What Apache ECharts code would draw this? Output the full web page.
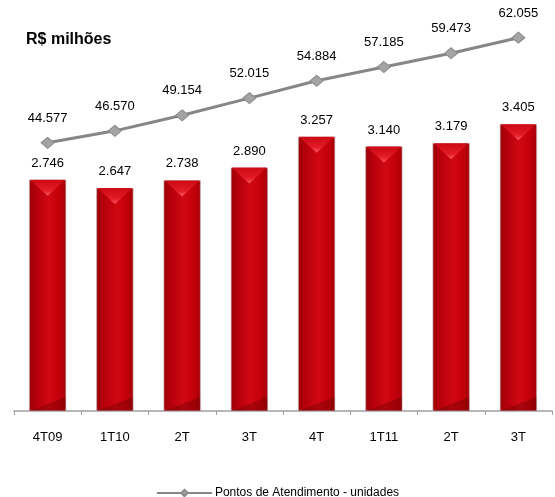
<!DOCTYPE html>
<html>
<head>
<meta charset="utf-8">
<script src="https://cdn.jsdelivr.net/npm/echarts@6/dist/echarts.min.js"></script>
<style>
  html, body { margin: 0; padding: 0; background: #fff; }
  #chart { width: 555px; height: 497px; }
</style>
</head>
<body>
<div id="chart"></div>
<script>
// Quarters on the horizontal axis
const categories = ['4T09', '1T10', '2T', '3T', '4T', '1T11', '2T', '3T'];
// Bars: R$ milhões
const barValues = [2746, 2647, 2738, 2890, 3257, 3140, 3179, 3405];
// Line: Pontos de Atendimento - unidades
const pointValues = [44577, 46570, 49154, 52015, 54884, 57185, 59473, 62055];

const fmt = v => {
  const s = String(Math.round(v));
  return s.replace(/\B(?=(\d{3})+(?!\d))/g, '.');
};

const font = 'Liberation Sans, Arial, sans-serif';

const chart = echarts.init(document.getElementById('chart'), null, { renderer: 'canvas' });

const bodyGradient = new echarts.graphic.LinearGradient(0, 0, 1, 0, [
  { offset: 0, color: '#9c0008' },
  { offset: 0.2, color: '#b6000c' },
  { offset: 0.55, color: '#d00812' },
  { offset: 0.8, color: '#c4000a' },
  { offset: 1, color: '#a60008' }
]);

const topGradient = new echarts.graphic.LinearGradient(0, 0, 0, 1, [
  { offset: 0, color: '#cc0a14' },
  { offset: 0.65, color: '#e41c28' },
  { offset: 1, color: '#ff5a68' }
]);

chart.setOption({
  animation: false,
  title: {
    text: 'R$ milhões',
    left: 26,
    top: 32,
    padding: 0,
    textStyle: { fontFamily: font, fontSize: 16, fontWeight: 'bold', color: '#000' }
  },
  legend: {
    top: 487,
    left: 'center',
    padding: 0,
    itemWidth: 55,
    itemHeight: 8,
    itemGap: 5,
    data: ['Pontos de Atendimento - unidades'],
    textStyle: { fontFamily: font, fontSize: 12, color: '#000', padding: [0, 0, 0, -2] }
  },
  grid: { left: 14, right: 3, top: 32, bottom: 86, containLabel: false },
  xAxis: {
    type: 'category',
    data: categories,
    boundaryGap: true,
    axisLine: { lineStyle: { color: '#a0a0a0', width: 1.5 } },
    axisTick: { show: true, length: 4, lineStyle: { color: '#a0a0a0', width: 1 } },
    axisLabel: { fontFamily: font, fontSize: 13, color: '#000', margin: 20 },
    splitLine: { show: false }
  },
  yAxis: [
    { type: 'value', min: 0, max: 4500, show: false, splitLine: { show: false } },
    { type: 'value', min: 0, max: 63000, show: false, splitLine: { show: false } }
  ],
  series: [
    {
      name: 'R$ milhões',
      type: 'bar',
      yAxisIndex: 0,
      data: barValues,
      barWidth: 37,
      itemStyle: { color: bodyGradient, borderColor: '#c0a8a8', borderWidth: 0.6 },
      label: {
        show: true,
        position: 'top',
        distance: 10,
        formatter: p => fmt(p.value),
        fontFamily: font,
        fontSize: 13,
        color: '#000'
      },
      z: 2
    },
    {
      // bevelled cap at the top of each bar
      name: 'cap',
      type: 'pictorialBar',
      yAxisIndex: 0,
      data: barValues,
      barGap: '-100%',
      symbol: 'path://M0,0 L36,0 L18,16 Z',
      symbolSize: [35, 16],
      symbolPosition: 'end',
      itemStyle: { color: topGradient, opacity: 0.95 },
      silent: true,
      legendHoverLink: false,
      z: 3
    },
    {
      // darker bevel at the foot of each bar
      name: 'foot',
      type: 'pictorialBar',
      yAxisIndex: 0,
      data: barValues,
      symbol: 'path://M18,14 L36,0 L36,14 Z',
      symbolSize: [36, 14],
      symbolPosition: 'start',
      itemStyle: { color: 'rgba(80,0,0,0.3)' },
      silent: true,
      legendHoverLink: false,
      z: 3
    },
    {
      name: 'Pontos de Atendimento - unidades',
      type: 'line',
      yAxisIndex: 1,
      data: pointValues,
      symbol: 'diamond',
      symbolSize: [13, 11],
      lineStyle: { color: '#868686', width: 3 },
      itemStyle: { color: '#a4a4a4', borderColor: '#8a8a8a', borderWidth: 1 },
      label: {
        show: true,
        position: 'top',
        distance: 12,
        formatter: p => fmt(p.value),
        fontFamily: font,
        fontSize: 13,
        color: '#000'
      },
      z: 5
    }
  ]
});
</script>
</body>
</html>
